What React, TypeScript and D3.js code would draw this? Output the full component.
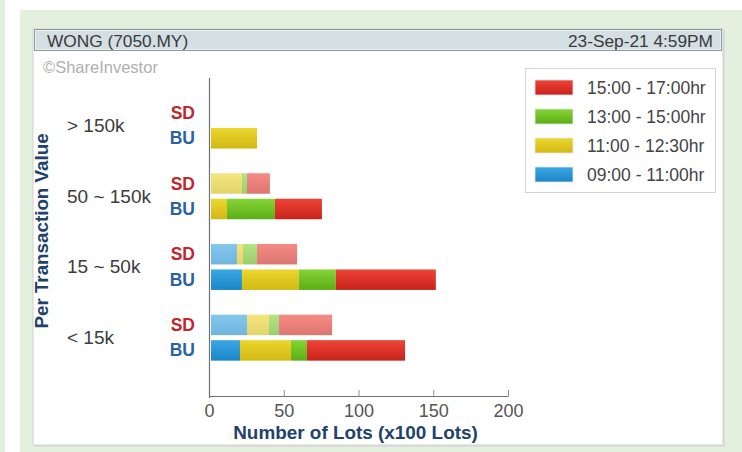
import React from "react";
import * as d3 from "d3";

const categories = ["> 150k", "50 ~ 150k", "15 ~ 50k", "< 15k"];
const periods = ["09:00 - 11:00hr", "11:00 - 12:30hr", "13:00 - 15:00hr", "15:00 - 17:00hr"];
// values per category, per period (blue, yellow, green, red)
const sdValues = [
  [0, 0, 0, 0],
  [0, 20.7, 3.3, 15.4],
  [17.4, 4.0, 9.4, 26.8],
  [24.1, 14.7, 6.7, 35.5],
];
const buValues = [
  [0, 30.8, 0, 0],
  [0, 10.7, 32.1, 31.4],
  [20.7, 38.1, 24.7, 66.9],
  [19.4, 34.1, 10.7, 65.6],
];
const xTicks = [0, 50, 100, 150, 200];
const legendOrder = [3, 2, 1, 0];

const colorsTop = ["#3aa6e2", "#ecd630", "#86d436", "#ee4438"];
const colorsBot = ["#1a86c8", "#d2b812", "#5cae16", "#c8221a"];

const FONT = "'Liberation Sans', Arial, sans-serif";

export default function App() {
  const W = 742, H = 452;
  const x = d3.scaleLinear().domain([0, 200]).range([209.5, 508.5]);
  const y = d3.scaleBand().domain(categories).range([90.2, 373]).paddingInner(0).paddingOuter(0);
  const barH = 20.5;
  const off = 1.5;

  const stackBars = (vals: number[], cy: number, kind: string, ci: number) => {
    let cum = 0;
    return vals.map((v, i) => {
      const x0 = x(cum) + off;
      cum += v;
      const x1 = x(cum) + off;
      if (v <= 0) return null;
      return (
        <rect
          key={kind + ci + "-" + i}
          x={x0}
          y={cy}
          width={x1 - x0}
          height={barH}
          fill={`url(#g${i})`}
          opacity={kind === "sd" ? 0.62 : 1}
        />
      );
    });
  };

  return (
    <svg width={W} height={H} style={{ position: "absolute", left: 0, top: 0, fontFamily: FONT }}>
      <defs>
        {colorsTop.map((c, i) => (
          <linearGradient key={i} id={`g${i}`} x1="0" y1="0" x2="0" y2="1">
            <stop offset="0" stopColor={c} />
            <stop offset="1" stopColor={colorsBot[i]} />
          </linearGradient>
        ))}
      </defs>
      <rect x={0} y={0} width={W} height={H} fill="#ffffff" />
      <rect x={0} y={0} width={5} height={H} fill="#e4f0de" />
      <rect x={20} y={10} width={W - 20} height={H - 10} fill="#e4f0de" />
      {/* panel */}
      <rect x={34} y={30} width={691} height={417} fill="#dcdcdc" />
      <rect x={33} y={29} width={690} height={416} fill="#ffffff" stroke="#cfcfcf" strokeWidth={1} />
      {/* title bar */}
      <rect x={34.5} y={29.5} width={687} height={21} fill="#d3dfe3" stroke="#8d9b9b" strokeWidth={1} />
      <rect x={35.5} y={30.5} width={685} height={19} fill="none" stroke="#e8eff0" strokeWidth={1} />
      <text x={47} y={46.5} fontSize={17.3} fill="#3a3a3a">WONG (7050.MY)</text>
      <text x={713} y={46.5} fontSize={17.3} fill="#3a3a3a" textAnchor="end">23-Sep-21 4:59PM</text>
      <text x={43} y={73} fontSize={16.5} fill="#b0b0b0">©ShareInvestor</text>

      {/* bars */}
      {categories.map((c, ci) => {
        const cy = (y(c) as number) + y.bandwidth() / 2;
        return (
          <g key={c}>
            {stackBars(sdValues[ci], cy - 23, "sd", ci)}
            {stackBars(buValues[ci], cy + 2.5, "bu", ci)}
            <text x={67} y={cy + 6.5} fontSize={19} fill="#3c3c3c">{c}</text>
            <text x={195} y={cy - 12.5 + 6} fontSize={17.5} fontWeight="bold" fill="#c0262c" textAnchor="end">SD</text>
            <text x={195} y={cy + 12.75 + 6} fontSize={17.5} fontWeight="bold" fill="#2b62a3" textAnchor="end">BU</text>
          </g>
        );
      })}

      {/* axes */}
      <line x1={x(0)} x2={x(0)} y1={78} y2={398} stroke="#707070" strokeWidth={1.2} />
      <line x1={x(0)} x2={x(200)} y1={396.5} y2={396.5} stroke="#707070" strokeWidth={1.2} />
      {xTicks.map((t) => (
        <g key={t}>
          {t > 0 && <line x1={x(t)} x2={x(t)} y1={390} y2={396.5} stroke="#909090" strokeWidth={1} />}
          <text x={x(t)} y={417} fontSize={18} fill="#555" textAnchor="middle">{t}</text>
        </g>
      ))}
      <text x={355.5} y={439} fontSize={18.9} fontWeight="bold" fill="#21426b" textAnchor="middle">
        Number of Lots (x100 Lots)
      </text>
      <text
        transform={`translate(48,231) rotate(-90)`}
        fontSize={18.8}
        fontWeight="bold"
        fill="#21426b"
        textAnchor="middle"
      >
        Per Transaction Value
      </text>

      {/* legend */}
      <rect x={525.5} y={68.5} width={190} height={124} fill="#fff" stroke="#d4d4d4" strokeWidth={1} />
      {legendOrder.map((pi, k) => {
        const cy = 87.5 + k * 29;
        return (
          <g key={pi}>
            <rect x={535} y={cy - 7.5} width={38} height={15} fill={`url(#g${pi})`} stroke="#e6e6e6" strokeWidth={0.8} />
            <text x={587} y={cy + 6} fontSize={17.5} fill="#444">{periods[pi]}</text>
          </g>
        );
      })}
    </svg>
  );
}
